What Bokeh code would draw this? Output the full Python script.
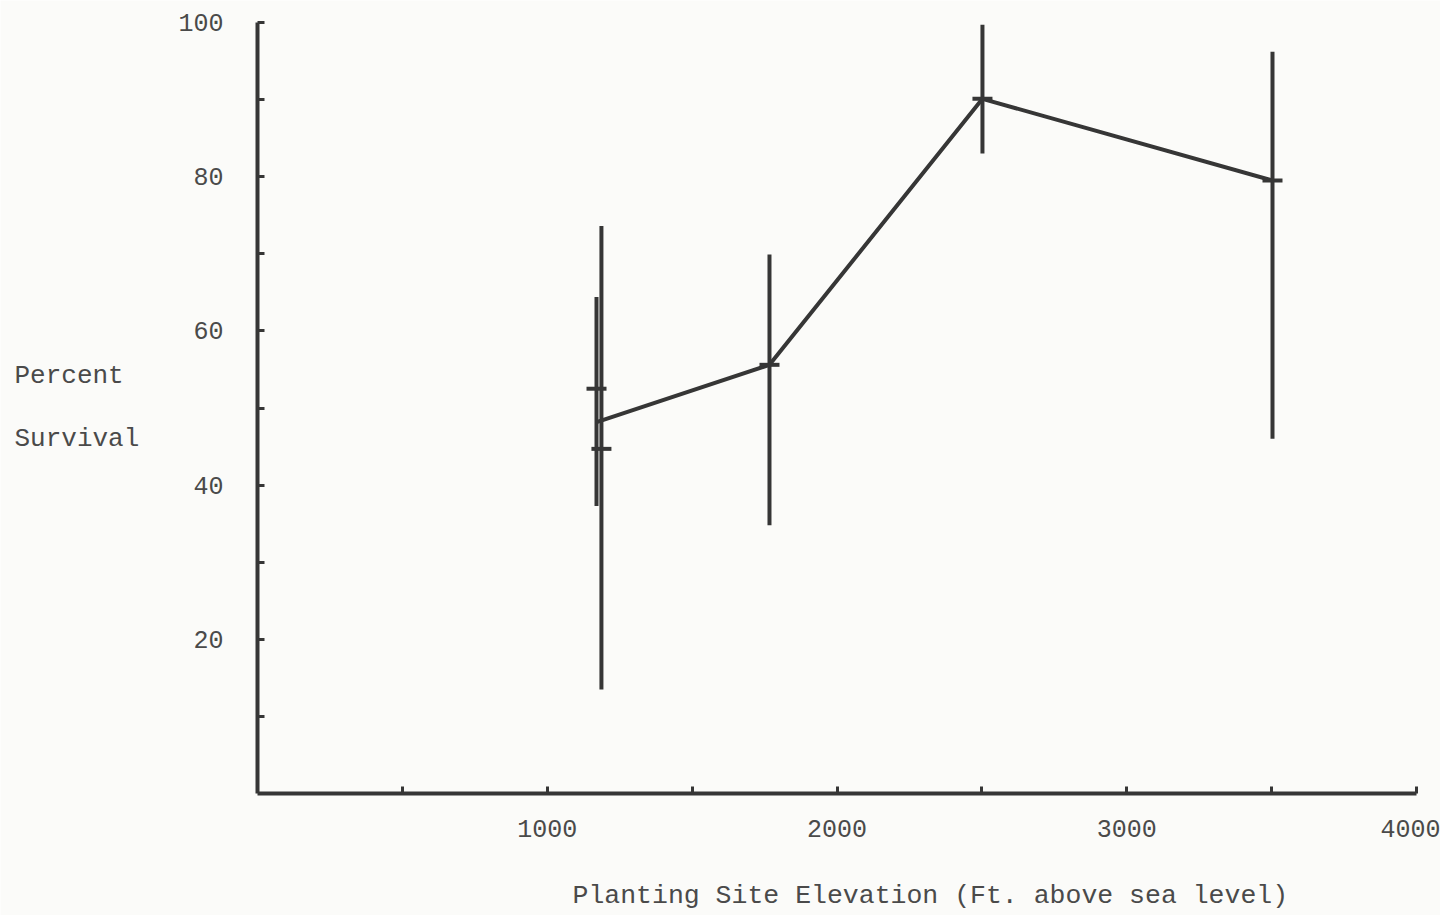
from bokeh.plotting import figure
from bokeh.models import FixedTicker, Range1d, Label, ColumnDataSource
from bokeh.embed import file_html
from bokeh.resources import INLINE

# ---- data ----
line_elev = [1173, 1767, 2502, 3503]
line_survival = [48.2, 55.6, 90.1, 79.5]

bar_elev = [1170, 1187, 1767, 2502, 3503]
bar_mean = [52.5, 44.7, 55.6, 90.1, 79.5]
bar_low = [37.3, 13.5, 34.8, 83.0, 46.0]
bar_high = [64.4, 73.6, 69.9, 99.7, 96.2]

x_major = [1000, 2000, 3000, 4000]
x_minor = [500, 1500, 2500, 3500]
y_major = [20, 40, 60, 80, 100]
y_minor = [10, 30, 50, 70, 90]

x_title = "Planting Site Elevation (Ft. above sea level)"
y_title_lines = ["Percent", "Survival"]

ink = "#363636"
text_col = "#4a4a4a"
paper = "#fbfbf9"
font = "Liberation Mono"

# layout calibration (canvas pixels)
W, H = 1440, 915
x0_px, x4000_px = 257, 1416
y0_px, y100_px = 793, 22
sx = (x4000_px - x0_px) / 4000.0
sy = (y0_px - y100_px) / 100.0

p = figure(width=W, height=H, output_backend="svg", toolbar_location=None,
           x_range=Range1d(-x0_px / sx, (W - x0_px) / sx),
           y_range=Range1d(-(H - y0_px) / sy, 100 + y100_px / sy),
           min_border=0)
p.background_fill_color = paper
p.border_fill_color = paper
p.outline_line_color = None
p.grid.visible = False

for ax in (p.xaxis[0], p.yaxis[0]):
    ax.fixed_location = 0
    ax.axis_line_width = 4
    ax.axis_line_color = ink
    ax.major_tick_in = 7
    ax.major_tick_out = 0
    ax.minor_tick_in = 7
    ax.minor_tick_out = 0
    ax.major_tick_line_width = 3
    ax.minor_tick_line_width = 3
    ax.major_tick_line_color = ink
    ax.minor_tick_line_color = ink
    ax.major_label_text_font = font
    ax.major_label_text_font_size = "25px"
    ax.major_label_text_color = text_col

p.xaxis[0].bounds = (0, 4000)
p.yaxis[0].bounds = (0, 100)
p.xaxis[0].ticker = FixedTicker(ticks=x_major, minor_ticks=x_minor)
p.yaxis[0].ticker = FixedTicker(ticks=y_major, minor_ticks=y_minor)
p.xaxis[0].major_label_standoff = 26
p.yaxis[0].major_label_standoff = 34

src_bars = ColumnDataSource(dict(x=bar_elev, m=bar_mean, lo=bar_low, hi=bar_high))
p.segment(x0="x", y0="lo", x1="x", y1="hi", source=src_bars, line_width=4, line_color=ink)
p.line(line_elev, line_survival, line_width=4, line_color=ink)
p.scatter(x="x", y="m", source=src_bars, marker="dash", size=20, line_width=4, line_color=ink)

for txt, page_y in zip(y_title_lines, (375, 438)):
    p.add_layout(Label(x=(14 - x0_px) / sx, y=(y0_px - page_y) / sy, text=txt,
                       text_font=font, text_font_size="26px", text_color=text_col,
                       text_baseline="middle", text_align="left"))

p.add_layout(Label(x=(572 - x0_px) / sx, y=(y0_px - 895) / sy, text=x_title,
                   text_font=font, text_font_size="26.5px", text_color=text_col,
                   text_baseline="middle", text_align="left"))

open("out.html", "w").write(file_html(p, INLINE))
